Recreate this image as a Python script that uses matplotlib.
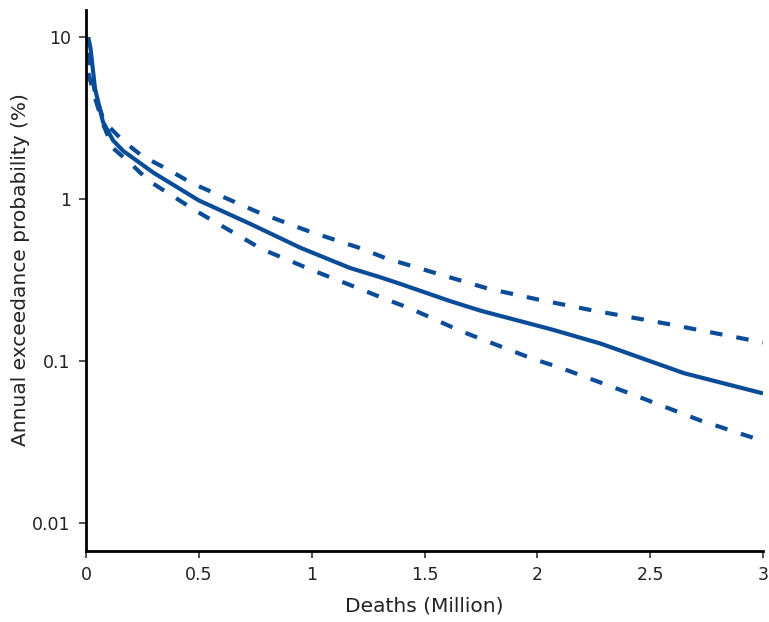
import matplotlib
matplotlib.use("Agg")
import matplotlib.pyplot as plt
from matplotlib.ticker import FixedLocator, FixedFormatter, NullLocator

# Data (deaths in millions, annual exceedance probability in %)
x_central = [0.01, 0.02, 0.04, 0.075, 0.12, 0.165, 0.3, 0.5, 0.73, 0.95, 1.17, 1.30, 1.39, 1.61, 1.75, 2.06, 2.28, 2.65, 3.0]
y_central = [10, 8.5, 4.8, 3.0, 2.3, 1.98, 1.45, 0.98, 0.70, 0.50, 0.375, 0.33, 0.30, 0.235, 0.204, 0.157, 0.128, 0.084, 0.063]

x_upper = [0.01, 0.04, 0.08, 0.165, 0.25, 0.36, 0.47, 0.77, 0.99, 1.21, 1.33, 1.56, 1.78, 2.0, 2.23, 2.57, 3.0]
y_upper = [8.0, 4.5, 3.0, 2.28, 1.84, 1.53, 1.25, 0.82, 0.63, 0.50, 0.43, 0.345, 0.28, 0.24, 0.207, 0.17, 0.13]

x_lower = [0.01, 0.04, 0.08, 0.12, 0.195, 0.28, 0.40, 0.49, 0.78, 1.01, 1.21, 1.32, 1.44, 1.66, 1.98, 2.10, 2.41, 2.72, 3.0]
y_lower = [6.0, 4.2, 2.8, 2.06, 1.67, 1.29, 1.01, 0.84, 0.49, 0.36, 0.28, 0.243, 0.21, 0.153, 0.103, 0.091, 0.063, 0.043, 0.032]

x_ticks = [0, 0.5, 1, 1.5, 2, 2.5, 3]
x_ticklabels = ["0", "0.5", "1", "1.5", "2", "2.5", "3"]
y_ticks = [0.01, 0.1, 1, 10]
y_ticklabels = ["0.01", "0.1", "1", "10"]

color = "#0b4c98"

fig = plt.figure(figsize=(7.69, 6.22), dpi=100)
ax = fig.add_axes([86/769, 71/622, (763-86)/769, (551-10)/622])

dash = (0, (3.0, 3.4))
ax.plot(x_central, y_central, color=color, lw=3.0, solid_capstyle="butt")
ax.plot(x_upper, y_upper, color=color, lw=3.0, linestyle=dash)
ax.plot(x_lower, y_lower, color=color, lw=3.0, linestyle=dash)

ax.set_yscale("log")
ax.set_xlim(0, 3)
ax.set_ylim(0.0067, 14.7)

ax.xaxis.set_major_locator(FixedLocator(x_ticks))
ax.xaxis.set_major_formatter(FixedFormatter(x_ticklabels))
ax.yaxis.set_major_locator(FixedLocator(y_ticks))
ax.yaxis.set_major_formatter(FixedFormatter(y_ticklabels))
ax.yaxis.set_minor_locator(NullLocator())
ax.xaxis.set_minor_locator(NullLocator())

for s in ["top", "right"]:
    ax.spines[s].set_visible(False)
for s in ["left", "bottom"]:
    ax.spines[s].set_linewidth(2)
    ax.spines[s].set_color("black")

ax.tick_params(axis="both", direction="out", length=5, width=1.2, color="#333333",
               labelsize=12.5, labelcolor="#222222", pad=6)

ax.set_xlabel("Deaths (Million)", fontsize=14.5, color="#222222", labelpad=9)
fig.text(21/769, 1 - 270/622, "Annual exceedance probability (%)", fontsize=14.5,
         color="#222222", rotation=90, ha="center", va="center")

fig.savefig("out.png", dpi=100, facecolor="white")
